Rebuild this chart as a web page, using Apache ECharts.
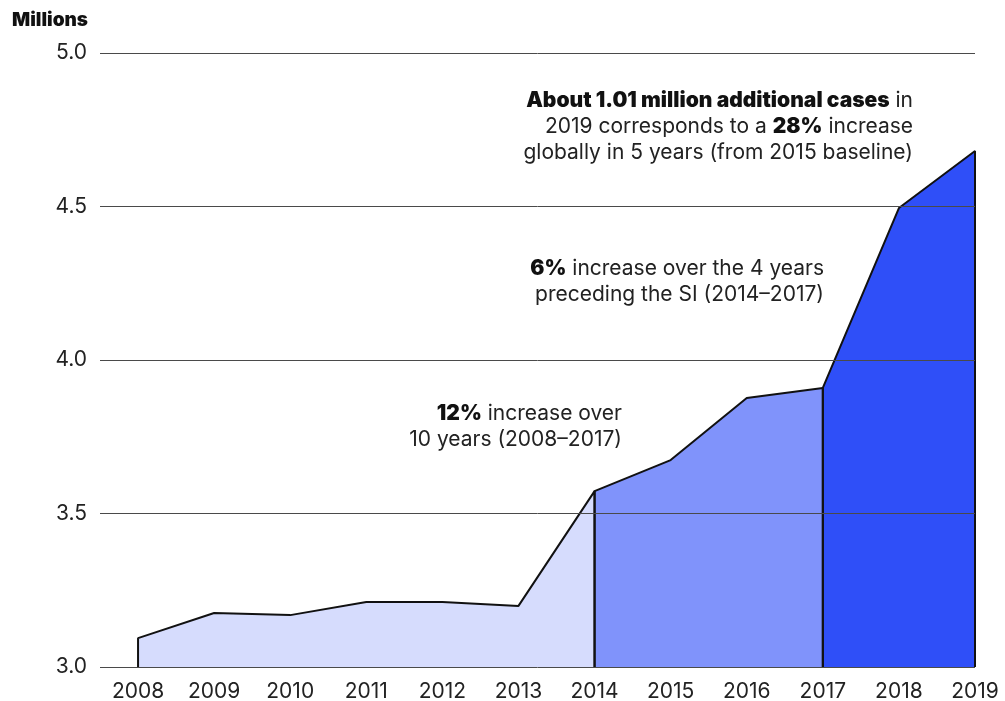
<!DOCTYPE html>
<html>
<head>
<meta charset="utf-8">
<script src="https://cdn.jsdelivr.net/npm/echarts@6/dist/echarts.min.js"></script>
<style>
  html, body { margin: 0; padding: 0; background: #fff; }
  #chart { width: 1005px; height: 701px; }
</style>
</head>
<body>
<div id="chart"></div>
<script>
// cases in millions
var years = [2008, 2009, 2010, 2011, 2012, 2013, 2014, 2015, 2016, 2017, 2018, 2019];
var cases = [3.094, 3.176, 3.169, 3.212, 3.212, 3.199, 3.573, 3.674, 3.876, 3.909, 4.495, 4.681];
var yTicks = [3.0, 3.5, 4.0, 4.5, 5.0];

// segments: [first year, last year, fill colour]
var segments = [
  [2008, 2014, "#d6dcfd"],
  [2014, 2017, "#8093fb"],
  [2017, 2019, "#2f4ff8"]
];

// annotations: [right x, first line centre y, lines]
var notes = [
  [913, 101, [
    "{b|About 1.01 million additional cases} in",
    "2019 corresponds to a {b|28%} increase",
    "globally in 5 years (from 2015 baseline)"
  ]],
  [824, 269, [
    "{b|6%} increase over the 4 years",
    "preceding the SI (2014\u20132017)"
  ]],
  [622, 414, [
    "{b|12%} increase over",
    "10 years (2008\u20132017)"
  ]]
];

var base = yTicks[0];
var FONT = "Inter";

function segmentData(from, to) {
  var pts = [[from, base]];
  years.forEach(function (y, i) {
    if (y >= from && y <= to) pts.push([y, cases[i]]);
  });
  pts.push([to, base]);
  return pts;
}

var graphics = [{
  type: "text",
  left: 12,
  top: 11,
  style: { text: "Millions", font: "900 19px " + FONT, fill: "#111" }
}];
notes.forEach(function (n) {
  n[2].forEach(function (line, i) {
    graphics.push({
      type: "text",
      x: n[0],
      y: n[1] + i * 26,
      style: {
        text: line,
        align: "right",
        verticalAlign: "middle",
        fill: "#222",
        font: "21px " + FONT,
        rich: { b: { font: "900 21px " + FONT, fill: "#111", align: "right" } }
      }
    });
  });
});

var myChart = echarts.init(document.getElementById("chart"));

var option = {
  animation: false,
  grid: { left: 100, right: 30, top: 53, bottom: 34, outerBoundsMode: "none" },
  xAxis: {
    type: "value",
    min: 2007.5,
    max: 2019,
    interval: 0.5,
    axisLine: { show: false },
    axisTick: { show: false },
    splitLine: { show: false },
    axisLabel: {
      color: "#222",
      fontSize: 21,
      fontFamily: FONT,
      margin: 14,
      formatter: function (v) { return v % 1 === 0 ? String(v) : ""; }
    }
  },
  yAxis: {
    type: "value",
    min: yTicks[0],
    max: yTicks[yTicks.length - 1],
    interval: 0.5,
    z: 10,
    axisLine: { show: false },
    axisTick: { show: false },
    splitLine: { show: true, lineStyle: { color: "#4a4a4a", width: 1 } },
    axisLabel: {
      color: "#222",
      fontSize: 21,
      fontFamily: FONT,
      margin: 13,
      formatter: function (v) { return v.toFixed(1); }
    }
  },
  series: segments.map(function (s) {
    return {
      type: "line",
      data: segmentData(s[0], s[1]),
      symbol: "none",
      lineStyle: { color: "#111", width: 2 },
      areaStyle: { color: s[2], opacity: 1, origin: "start" },
      z: 2
    };
  }),
  graphic: graphics
};

myChart.setOption(option);
</script>
</body>
</html>
